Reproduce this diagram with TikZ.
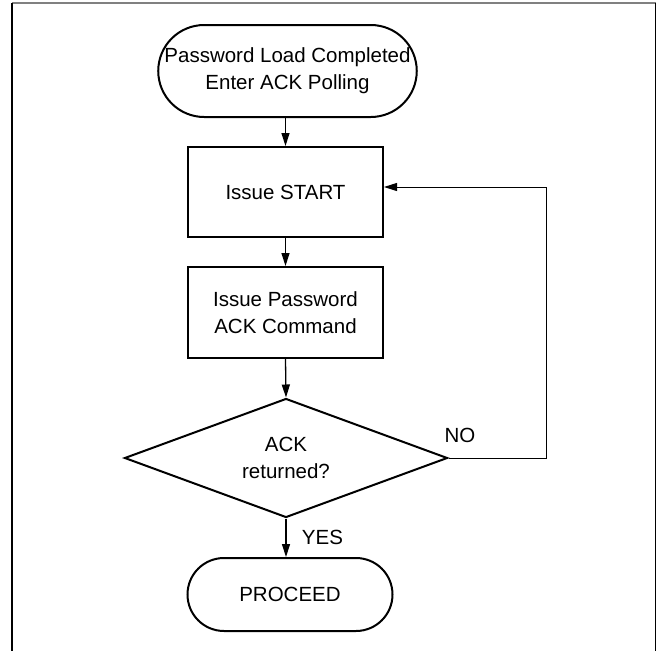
\documentclass[tikz,border=0pt]{standalone}
\usepackage{fontspec}
\setmainfont{Liberation Sans}
\usetikzlibrary{shapes.geometric,shapes.misc,arrows.meta}

\begin{document}
\begin{tikzpicture}[x=1pt,y=-1pt,
    font=\fontsize{20.5}{27}\selectfont,
    terminal/.style={draw,line width=2pt,rounded rectangle,inner sep=0pt,align=center},
    process/.style={draw,line width=2pt,rectangle,minimum width=195pt,minimum height=90pt,inner sep=0pt,align=center},
    decision/.style={draw,line width=2pt,diamond,aspect=2.7,inner sep=0pt,minimum width=323pt,minimum height=119pt,align=center},
    flow/.style={line width=1.3pt,-{Triangle[length=13pt,width=8pt]}},
    loop/.style={line width=1pt,-{Triangle[length=13pt,width=8pt]}}]
    \useasboundingbox (0,0) rectangle (657,651);
    % Frame
    \draw[gray,line width=1.5pt] (12,3) -- (656,3);
    \draw[line width=1.2pt] (12,3) -- (12,651);
    \draw[line width=1.5pt] (655.5,3) -- (655.5,651);
    % Flow chart
    \node[terminal,minimum width=254pt,minimum height=92pt] (enter) at (287.5,71) {Password Load Completed\\Enter ACK Polling};
    \node[process] (start) at (285.5,192) {Issue START};
    \node[process,minimum height=91pt] (cmd) at (285.5,312.5) {Issue Password\\ACK Command};
    \node[decision] (ack) at (286,458) {ACK\\returned?};
    \node[terminal,minimum width=205pt,minimum height=73pt] (proceed) at (290,594.5) {PROCEED};
    % Arrows
    \draw[flow] (enter.south -| start.north) -- (start.north);
    \draw[flow] (start) -- (cmd);
    \draw[flow] (cmd.south) -- (ack.north);
    \draw[flow] (ack.south) -- (ack.south |- proceed.north) node[midway,right=12pt] {YES};
    \coordinate (back) at (546,458);
    \draw[loop] (ack.east) -- (back) |- ([yshift=5pt]start.east);
    \node (no) at (460,435) {NO};
\end{tikzpicture}
\end{document}
